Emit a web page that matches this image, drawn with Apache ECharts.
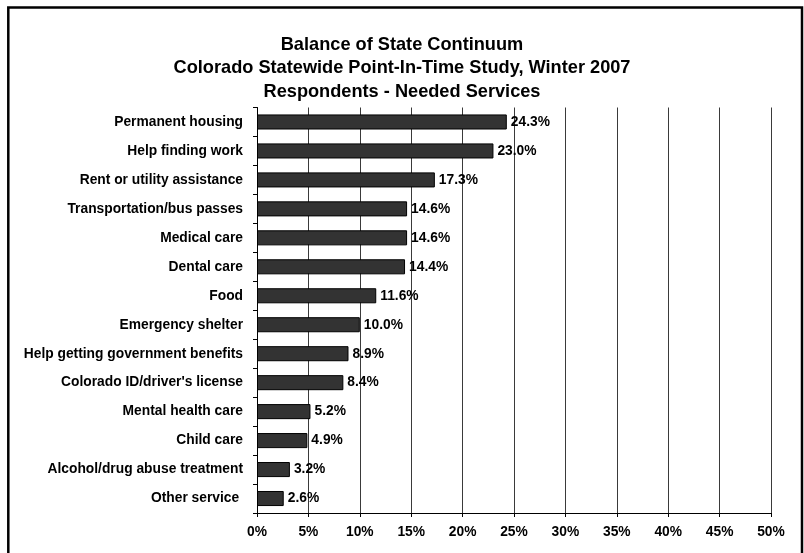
<!DOCTYPE html>
<html>
<head>
<meta charset="utf-8">
<script src="https://cdn.jsdelivr.net/npm/echarts@6/dist/echarts.min.js"></script>
<style>
  html, body { margin: 0; padding: 0; background: #fff; }
  #chart { width: 804px; height: 553px; }
</style>
</head>
<body>
<div id="chart"></div>
<script>
// Needed services reported by respondents, top to bottom
const categories = [
  'Permanent housing',
  'Help finding work',
  'Rent or utility assistance',
  'Transportation/bus passes',
  'Medical care',
  'Dental care',
  'Food',
  'Emergency shelter',
  'Help getting government benefits',
  "Colorado ID/driver's license",
  'Mental health care',
  'Child care',
  'Alcohol/drug abuse treatment',
  'Other service '
];
const percentNeeded = [24.3, 23.0, 17.3, 14.6, 14.6, 14.4, 11.6, 10.0, 8.9, 8.4, 5.2, 4.9, 3.2, 2.6];
const axisMax = 50;
const axisStep = 5;
const titleLines = [
  'Balance of State Continuum',
  'Colorado Statewide Point-In-Time Study, Winter 2007',
  'Respondents - Needed Services'
];

const FONT = 'Liberation Sans, Arial, sans-serif';
const LABEL_SIZE = 13.8;
const chart = echarts.init(document.getElementById('chart'), null, { renderer: 'canvas' });

chart.setOption({
  backgroundColor: '#ffffff',
  animation: false,
  title: {
    text: titleLines.join('\n'),
    left: 'center',
    top: 28,
    textStyle: {
      fontFamily: FONT,
      fontSize: 18.2,
      fontWeight: 'bold',
      color: '#000',
      lineHeight: 23.4
    }
  },
  graphic: [{
    type: 'rect',
    shape: { x: 8.3, y: 7.5, width: 793.7, height: 560 },
    style: { fill: 'none', stroke: '#000', lineWidth: 2.5 },
    silent: true
  }],
  grid: { left: 257, right: 33, top: 107.5, bottom: 40, containLabel: false },
  xAxis: {
    type: 'value',
    min: 0,
    max: axisMax,
    interval: axisStep,
    axisLine: { show: true, lineStyle: { color: '#000', width: 1 } },
    axisTick: { show: true, length: 4, inside: false, lineStyle: { color: '#000' } },
    axisLabel: {
      margin: 12,
      fontFamily: FONT,
      fontSize: LABEL_SIZE,
      fontWeight: 'bold',
      color: '#000',
      formatter: v => v + '%'
    },
    splitLine: { show: true, lineStyle: { color: '#3a3a3a', width: 1 } }
  },
  yAxis: {
    type: 'category',
    data: categories,
    inverse: true,
    axisLine: { show: true, lineStyle: { color: '#000', width: 1 } },
    axisTick: { show: true, length: 4, alignWithLabel: false, lineStyle: { color: '#000' } },
    axisLabel: {
      margin: 14,
      fontFamily: FONT,
      fontSize: LABEL_SIZE,
      fontWeight: 'bold',
      color: '#000'
    }
  },
  series: [{
    type: 'bar',
    data: percentNeeded,
    barCategoryGap: '48%',
    itemStyle: { color: '#333333', borderColor: '#000', borderWidth: 1 },
    label: {
      show: true,
      position: 'right',
      distance: 4,
      fontFamily: FONT,
      fontSize: LABEL_SIZE,
      fontWeight: 'bold',
      color: '#000',
      formatter: p => p.value.toFixed(1) + '%'
    }
  }]
});
</script>
</body>
</html>
